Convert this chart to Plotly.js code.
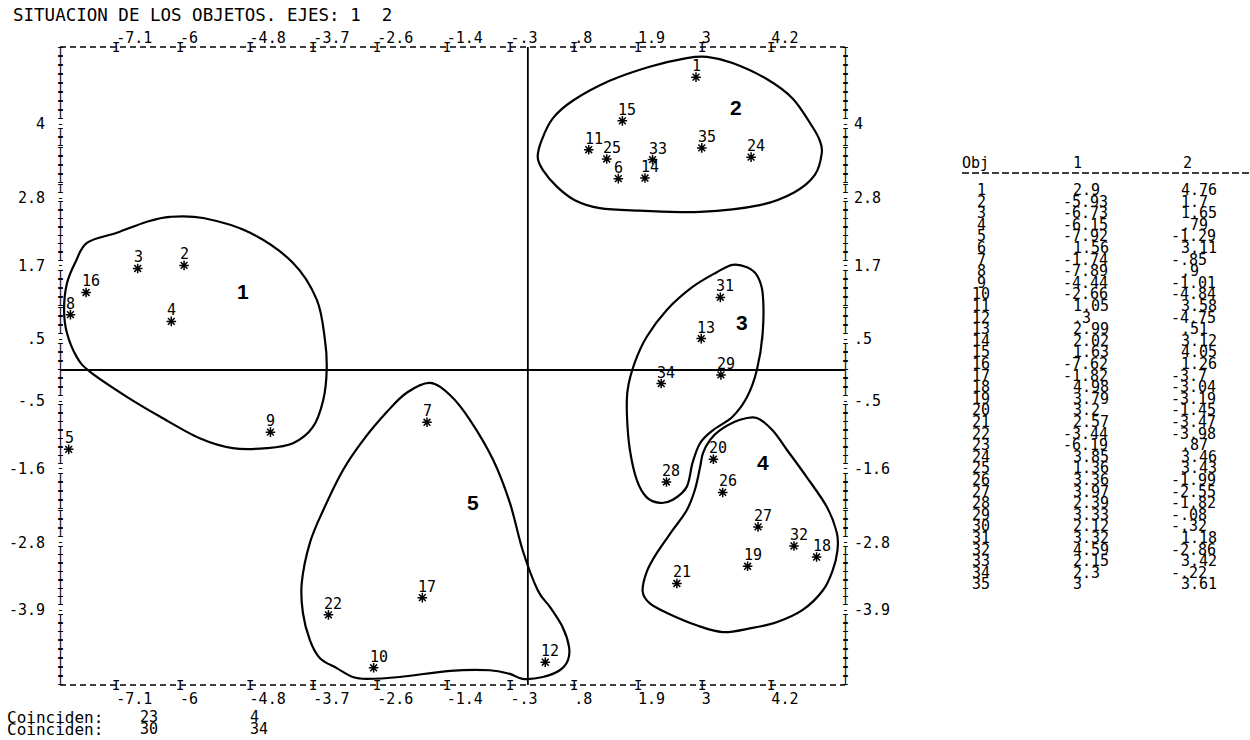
<!DOCTYPE html>
<html>
<head>
<meta charset="utf-8">
<script src="https://cdn.plot.ly/plotly-3.0.1.min.js"></script>
<style>html,body{margin:0;padding:0;background:#fff;}</style>
</head>
<body>
<div id="chart" style="width:1250px;height:740px;"></div>
<script>
// ---------- data ----------
const objX = [2.9, -5.93, -6.73, -6.15, -7.92, 1.56, -1.74, -7.89, -4.44, -2.66,
              1.05, 0.3, 2.99, 2.02, 1.63, -7.62, -1.82, 4.98, 3.79, 3.2,
              2.57, -3.44, -6.19, 3.85, 1.36, 3.36, 3.97, 2.39, 3.33, 2.12,
              3.32, 4.59, 2.15, 2.3, 3];
const objY = [4.76, 1.7, 1.65, 0.79, -1.29, 3.11, -0.85, 0.9, -1.01, -4.84,
              3.58, -4.75, 0.51, 3.12, 4.05, 1.26, -3.7, -3.04, -3.19, -1.45,
              -3.47, -3.98, 0.87, 3.46, 3.43, -1.99, -2.55, -1.82, -0.08, -0.32,
              1.18, -2.86, 3.42, -0.22, 3.61];
const coincident    = [23, 30];   // objects printed on top of another one
const coincidesWith = [4, 34];

const xTickVals = [-7.1, -6, -4.8, -3.7, -2.6, -1.4, -0.3, 0.8, 1.9, 3, 4.2];
const xTickText = ['-7.1', '-6', '-4.8', '-3.7', '-2.6', '-1.4', '-.3', '.8', '1.9', '3', '4.2'];
const yTickVals = [4, 2.8, 1.7, 0.5, -0.5, -1.6, -2.8, -3.9];
const yTickText = ['4', '2.8', '1.7', '.5', '-.5', '-1.6', '-2.8', '-3.9'];

// hand drawn cluster outlines (data units)
const cluster1X = [-6.17,-5.60,-4.79,-4.05,-3.64,-3.50,-3.47,-3.53,-3.71,-4.05,-4.50,-5.09,-5.66,-6.34,-6.91,-7.55,-7.78,-7.95,-8.00,-7.95,-7.80,-7.60,-7.09,-6.57];
const cluster1Y = [2.49,2.47,2.23,1.74,1.14,0.49,0.00,-0.49,-0.93,-1.19,-1.27,-1.27,-1.11,-0.76,-0.44,-0.03,0.21,0.60,0.98,1.41,1.76,2.07,2.23,2.41];
const cluster2X = [3.09,2.74,2.10,1.41,0.78,0.43,0.24,0.17,0.26,0.50,0.81,1.24,1.93,2.97,4.00,4.60,4.95,5.07,5.03,4.91,4.57,4.12,3.53];
const cluster2Y = [5.09,5.07,4.93,4.70,4.38,4.09,3.74,3.46,3.25,2.98,2.76,2.63,2.59,2.57,2.68,2.89,3.17,3.53,3.74,3.95,4.41,4.73,4.99];
const cluster3X = [3.78,3.53,3.26,2.84,2.40,2.05,1.84,1.72,1.71,1.76,1.88,2.05,2.28,2.50,2.74,2.84,2.97,3.19,3.53,3.78,3.95,4.05,4.05,3.95];
const cluster3Y = [1.67,1.71,1.59,1.35,0.98,0.54,0.11,-0.33,-0.76,-1.30,-1.79,-2.07,-2.16,-2.11,-1.90,-1.51,-1.19,-0.98,-0.76,-0.44,0.00,0.60,1.25,1.54];
const cluster4X = [3.95,4.22,4.47,4.81,5.16,5.33,5.34,5.26,5.09,4.74,4.29,3.83,3.36,2.91,2.40,2.10,1.98,2.05,2.22,2.50,2.74,2.88,2.97,3.02,3.14,3.31,3.66];
const cluster4Y = [-0.78,-0.98,-1.30,-1.74,-2.23,-2.65,-2.93,-3.25,-3.58,-3.90,-4.10,-4.20,-4.26,-4.15,-3.95,-3.79,-3.60,-3.28,-2.98,-2.60,-2.28,-1.95,-1.58,-1.35,-1.14,-0.98,-0.81];
const cluster5X = [-1.69,-1.34,-1.00,-0.60,-0.31,-0.09,0.17,0.38,0.60,0.71,0.69,0.55,0.26,-0.09,-0.31,-0.66,-1.34,-2.21,-2.78,-3.02,-3.29,-3.59,-3.76,-3.88,-3.90,-3.76,-3.53,-3.19,-2.84,-2.43,-2.09];
const cluster5Y = [-0.21,-0.41,-0.81,-1.46,-2.16,-2.93,-3.58,-3.85,-4.18,-4.50,-4.72,-4.88,-4.99,-5.02,-4.94,-4.88,-4.89,-4.99,-5.02,-4.99,-4.85,-4.68,-4.39,-3.95,-3.46,-2.81,-2.28,-1.63,-1.14,-0.68,-0.37];

const clusterIds    = ['1', '2', '3', '4', '5'];
const clusterLabelX = [-4.91, 3.59, 3.69, 4.05, -0.95];
const clusterLabelY = [1.27, 4.26, 0.78, -1.50, -2.15];

const titleText = 'SITUACION DE LOS OBJETOS. EJES: 1\u00a0\u00a02';
const tableHeader = ['Obj', '1', '2'];
const coincideLabel = 'Coinciden:';

// ---------- layout constants ----------
const MONO = 'DejaVu Sans Mono, Liberation Mono, monospace';
const L = 60, R = 845, T = 47, B = 685;
const W = R - L, H = B - T;
const XR = [-8.07, 5.47], YR = [-5.12, 5.25];
const px = x => (x - L) / W;
const py = y => (B - y) / H;
const ink = '#000';

function fmt(v) {
  let s = String(Math.abs(v));
  if (s.startsWith('0.')) s = s.slice(1);
  return (v < 0 ? '-' : '') + s;
}

function closedSpline(xs, ys) {
  const n = xs.length;
  let d = 'M' + xs[0] + ',' + ys[0];
  for (let i = 0; i < n; i++) {
    const i0 = (i - 1 + n) % n, i1 = i, i2 = (i + 1) % n, i3 = (i + 2) % n;
    const c1x = xs[i1] + (xs[i2] - xs[i0]) / 6, c1y = ys[i1] + (ys[i2] - ys[i0]) / 6;
    const c2x = xs[i2] - (xs[i3] - xs[i1]) / 6, c2y = ys[i2] - (ys[i3] - ys[i1]) / 6;
    d += ' C' + c1x.toFixed(4) + ',' + c1y.toFixed(4) + ' ' + c2x.toFixed(4) + ',' + c2y.toFixed(4) +
         ' ' + xs[i2] + ',' + ys[i2];
  }
  return d + ' Z';
}

// ---------- traces ----------
const shownX = [], shownY = [], shownId = [];
objX.forEach((x, i) => {
  if (coincident.indexOf(i + 1) === -1) { shownX.push(x); shownY.push(objY[i]); shownId.push(i + 1); }
});

const traces = [
  {
    type: 'scatter', mode: 'markers', x: shownX, y: shownY,
    marker: { symbol: 'asterisk-open', size: 8, line: { width: 1.5, color: ink }, color: ink },
    cliponaxis: false, hoverinfo: 'skip'
  },
  { type: 'scatter', mode: 'markers', x: [], y: [], xaxis: 'x2', yaxis: 'y2', hoverinfo: 'skip' }
];

// ---------- shapes ----------
const shapes = [];
[[cluster1X, cluster1Y], [cluster2X, cluster2Y], [cluster3X, cluster3Y],
 [cluster4X, cluster4Y], [cluster5X, cluster5Y]].forEach(c => {
  shapes.push({ type: 'path', xref: 'x', yref: 'y', path: closedSpline(c[0], c[1]),
                line: { color: ink, width: 2.2 }, fillcolor: 'rgba(0,0,0,0)' });
});
shapes.push({ type: 'line', xref: 'x', yref: 'paper', x0: 0, x1: 0, y0: 0, y1: 1, line: { color: ink, width: 1.8 } });
shapes.push({ type: 'line', xref: 'paper', yref: 'y', x0: 0, x1: 1, y0: 0, y1: 0, line: { color: ink, width: 1.8 } });
shapes.push({ type: 'line', xref: 'paper', yref: 'paper', x0: 0, x1: 1, y0: 1, y1: 1, line: { color: ink, width: 1.4, dash: '6px,4px' } });
shapes.push({ type: 'line', xref: 'paper', yref: 'paper', x0: 0, x1: 1, y0: 0, y1: 0, line: { color: ink, width: 1.4, dash: '6px,4px' } });
shapes.push({ type: 'line', xref: 'paper', yref: 'paper', x0: px(962), x1: px(1250), y0: py(173), y1: py(173), line: { color: ink, width: 1.5, dash: '7px,3px' } });

// ---------- annotations ----------
const ann = [];
function txt(o) {
  ann.push(Object.assign({ showarrow: false, borderpad: 0,
    font: { family: MONO, size: 15, color: ink } }, o));
}

// point labels
shownId.forEach((id, k) => {
  txt({ x: shownX[k], y: shownY[k], xref: 'x', yref: 'y', text: String(id),
        xanchor: 'left', yanchor: 'bottom', xshift: -5, yshift: 1 });
});
// cluster numbers
clusterIds.forEach((c, k) => {
  txt({ x: clusterLabelX[k], y: clusterLabelY[k], xref: 'x', yref: 'y', text: c,
        xanchor: 'center', yanchor: 'middle',
        font: { family: 'Liberation Sans, Arial, sans-serif', size: 21, weight: 700, color: ink } });
});
// "I" tick glyphs on top and bottom dashed frame
xTickVals.forEach(v => {
  [0, 1].forEach(yy => txt({ x: v, y: yy, xref: 'x', yref: 'paper', text: 'I',
    xanchor: 'center', yanchor: 'middle', font: { family: MONO, size: 14, color: ink } }));
});
// printer-style column of "I" on left and right frame, "-" on the tick rows
const rowStep = 8.7 * (YR[1] - YR[0]) / H;
const bounds = [5.17].concat(yTickVals).concat([-5.05]);
const rows = [];
for (let s = 0; s < bounds.length - 1; s++) {
  const a = bounds[s], b = bounds[s + 1];
  const n = Math.max(1, Math.round((a - b) / rowStep));
  const kStart = s === 0 ? 0 : 1;
  const kEnd = s === bounds.length - 2 ? n : n - 1;
  for (let k = kStart; k <= kEnd; k++) rows.push({ y: a - k * (a - b) / n, c: 'I' });
}
yTickVals.forEach(v => rows.push({ y: v, c: '-' }));
rows.forEach(r => {
  [0, 1].forEach(xx => txt({ x: xx, y: r.y, xref: 'paper', yref: 'y', text: r.c,
    xanchor: 'center', yanchor: 'middle', font: { family: MONO, size: 11.5, color: ink } }));
});

// title
txt({ x: px(12), y: py(15), xref: 'paper', yref: 'paper', text: titleText,
      xanchor: 'left', yanchor: 'middle', font: { family: MONO, size: 17.5, color: ink } });

// table
txt({ x: px(961), y: py(163), xref: 'paper', yref: 'paper', text: tableHeader[0], xanchor: 'left', yanchor: 'middle' });
txt({ x: px(1072), y: py(163), xref: 'paper', yref: 'paper', text: tableHeader[1], xanchor: 'left', yanchor: 'middle' });
txt({ x: px(1182), y: py(163), xref: 'paper', yref: 'paper', text: tableHeader[2], xanchor: 'left', yanchor: 'middle' });
objX.forEach((x, i) => {
  const yy = py(190 + i * 11.6);
  txt({ x: px(981), y: yy, xref: 'paper', yref: 'paper', text: String(i + 1), xanchor: 'center', yanchor: 'middle' });
  txt({ x: px(x < 0 ? 1062 : 1072), y: yy, xref: 'paper', yref: 'paper', text: fmt(x), xanchor: 'left', yanchor: 'middle' });
  const v = objY[i];
  txt({ x: px(v < 0 ? 1170 : 1180), y: yy, xref: 'paper', yref: 'paper', text: fmt(v), xanchor: 'left', yanchor: 'middle' });
});

// coinciding objects
coincident.forEach((c, k) => {
  const yy = py(717 + k * 12);
  txt({ x: px(6), y: yy, xref: 'paper', yref: 'paper', text: coincideLabel, xanchor: 'left', yanchor: 'middle',
        font: { family: MONO, size: 16, color: ink } });
  txt({ x: px(139), y: yy, xref: 'paper', yref: 'paper', text: String(c), xanchor: 'left', yanchor: 'middle' });
  txt({ x: px(249), y: yy, xref: 'paper', yref: 'paper', text: String(coincidesWith[k]), xanchor: 'left', yanchor: 'middle' });
});

// ---------- axes ----------
const tickFont = { family: MONO, size: 15, color: ink };
const xBase = { range: XR, showgrid: false, zeroline: false, showline: false, ticks: '',
  tickmode: 'array', tickvals: xTickVals, ticktext: xTickText, tickfont: tickFont,
  ticklabelposition: 'outside right', fixedrange: true };
const yBase = { range: YR, showgrid: false, zeroline: false, showline: false, ticks: '',
  tickmode: 'array', tickvals: yTickVals, ticktext: yTickText, tickfont: tickFont, fixedrange: true };

const layout = {
  width: 1250, height: 740,
  margin: { l: L, r: 1250 - R, t: T, b: 740 - B, pad: 0 },
  paper_bgcolor: '#fff', plot_bgcolor: '#fff', showlegend: false,
  font: { family: MONO, color: ink },
  xaxis: Object.assign({}, xBase, { ticklabelstandoff: 3 }),
  xaxis2: Object.assign({}, xBase, { overlaying: 'x', side: 'top', ticklabelstandoff: 0 }),
  yaxis: Object.assign({}, yBase, { ticklabelstandoff: 14 }),
  yaxis2: Object.assign({}, yBase, { overlaying: 'y', side: 'right', ticklabelstandoff: 8 }),
  shapes: shapes,
  annotations: ann
};

Plotly.newPlot('chart', traces, layout, { staticPlot: true, displayModeBar: false });
</script>
</body>
</html>
